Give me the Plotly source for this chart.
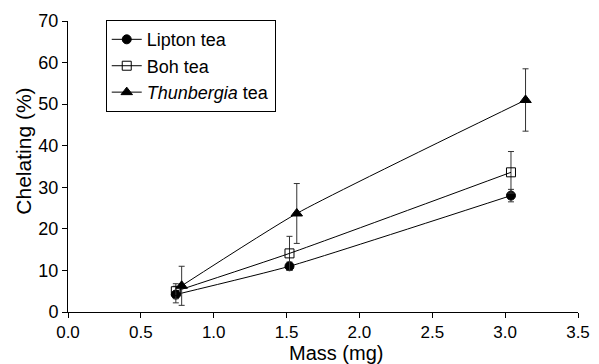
import plotly.graph_objects as go

lipton_x = [0.74, 1.52, 3.04]
lipton_y = [4.2, 11.0, 28.0]
lipton_err = [2.0, 1.0, 1.5]

boh_x = [0.74, 1.52, 3.04]
boh_y = [5.0, 14.1, 33.6]
boh_err = [1.8, 4.1, 5.0]

thun_x = [0.78, 1.57, 3.14]
thun_y = [6.3, 23.7, 51.0]
thun_err = [4.7, 7.2, 7.5]

x_ticks = [0.0, 0.5, 1.0, 1.5, 2.0, 2.5, 3.0, 3.5]
y_ticks = [0, 10, 20, 30, 40, 50, 60, 70]

x_title = "Mass (mg)"
y_title = "Chelating (%)"

FONT = "Liberation Sans, Arial, sans-serif"

fig = go.Figure()

def add(name, x, y, err, symbol, size):
    fig.add_trace(go.Scatter(
        x=x, y=y, name=name, mode="lines+markers",
        line=dict(color="black", width=1, shape="spline", smoothing=0.5),
        marker=dict(symbol=symbol, size=size, color="black",
                    line=dict(color="black", width=1)),
        error_y=dict(type="data", array=err, visible=True,
                     color="#333333", thickness=1, width=3),
    ))

add("Lipton tea", lipton_x, lipton_y, lipton_err, "circle", 9)
add("Boh tea", boh_x, boh_y, boh_err, "square-open", 9)
add("<i>Thunbergia</i> tea", thun_x, thun_y, thun_err, "triangle-up", 10)

fig.update_layout(
    width=599, height=364,
    margin=dict(l=68, r=21, t=21, b=52, autoexpand=False),
    paper_bgcolor="white", plot_bgcolor="white",
    font=dict(family=FONT, size=18, color="black"),
    showlegend=True,
    legend=dict(x=0.074, y=1.003, xanchor="left", yanchor="top",
                bordercolor="black", borderwidth=1, bgcolor="white",
                font=dict(size=18, family=FONT), tracegroupgap=0,
                itemwidth=30),
    annotations=[
        dict(text=x_title, xref="paper", yref="paper", x=0.525, y=0,
             xanchor="center", yanchor="bottom", yshift=-54, showarrow=False,
             font=dict(size=20)),
        dict(text=y_title, xref="paper", yref="paper", x=0, y=0.551,
             xanchor="center", yanchor="middle", xshift=-44, textangle=-90,
             showarrow=False, font=dict(size=21)),
    ],
)
fig.update_xaxes(
    range=[0, 3.5], tickvals=x_ticks, ticktext=[f"{v:.1f}" for v in x_ticks],
    showgrid=False, zeroline=False, showline=True, linecolor="black", linewidth=1,
    ticks="outside", ticklen=5, tickcolor="black",
    tickfont=dict(size=17), automargin=False,
)
fig.update_yaxes(
    range=[0, 70], tickvals=y_ticks,
    showgrid=False, zeroline=False, showline=True, linecolor="black", linewidth=1,
    ticks="outside", ticklen=5, tickcolor="black",
    tickfont=dict(size=18), automargin=False,
)

fig.write_html("out.html", config={"displayModeBar": False},
               post_script="document.body.style.margin='0';")
